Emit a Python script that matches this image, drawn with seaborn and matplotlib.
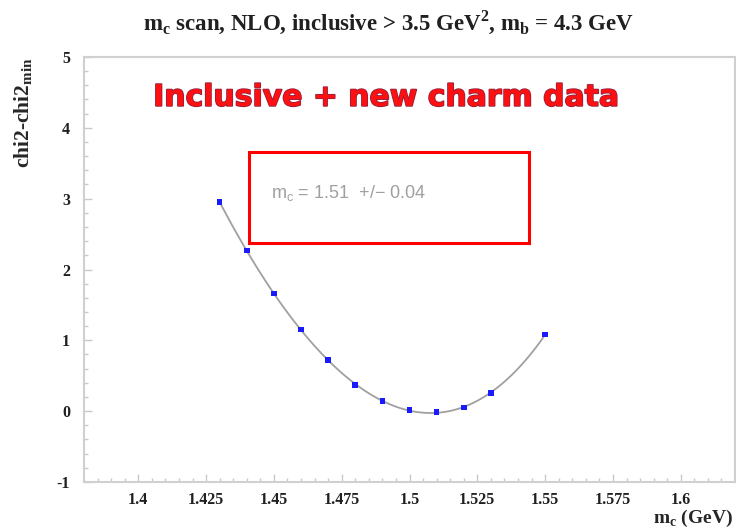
import numpy as np
import pandas as pd
import matplotlib
matplotlib.use("Agg")
import matplotlib.pyplot as plt
import matplotlib.patheffects as pe
from matplotlib.patches import Rectangle
from matplotlib.ticker import MultipleLocator, FixedLocator, FixedFormatter
import seaborn as sns

# ---- data ----
mc_values = [1.43, 1.44, 1.45, 1.46, 1.47, 1.48, 1.49, 1.50, 1.51, 1.52, 1.53, 1.55]
dchi2 = [2.95, 2.27, 1.66, 1.15, 0.72, 0.37, 0.14, 0.02, -0.01, 0.05, 0.26, 1.08]
x_ticks = [1.4, 1.425, 1.45, 1.475, 1.5, 1.525, 1.55, 1.575, 1.6]
x_tick_labels = ["1.4", "1.425", "1.45", "1.475", "1.5", "1.525", "1.55", "1.575", "1.6"]
y_ticks = [-1, 0, 1, 2, 3, 4, 5]
y_tick_labels = ["-1", "0", "1", "2", "3", "4", "5"]

title = r"m$_\mathbf{c}$ scan, NLO, inclusive > 3.5 GeV$^\mathbf{2}$, m$_\mathbf{b}$ = 4.3 GeV"
banner = "Inclusive + new charm data"
result = r"m$_\mathregular{c}$ = 1.51  +/− 0.04"

df = pd.DataFrame({"mc": mc_values, "dchi2": dchi2})

sns.set_theme(style="white")
plt.rcParams["font.family"] = ["Liberation Serif", "DejaVu Serif"]
plt.rcParams["mathtext.fontset"] = "custom"
plt.rcParams["mathtext.rm"] = "Liberation Serif"
plt.rcParams["mathtext.bf"] = "Liberation Serif:bold"

fig = plt.figure(figsize=(7.36, 5.32), dpi=100)
fig.patch.set_facecolor("white")
ax = fig.add_axes([84 / 736, 1 - 482 / 532, (735 - 84) / 736, (482 - 57) / 532])
ax.set_facecolor("white")

# fit curve through the points (seaborn polynomial regression)
sns.regplot(data=df, x="mc", y="dchi2", order=4, ci=None, scatter=False,
            truncate=True, line_kws=dict(color="#a0a0a0", lw=1.3), ax=ax)
sns.scatterplot(data=df, x="mc", y="dchi2", marker="s", s=16, color="#1a1aff",
                edgecolor="none", linewidth=0, zorder=5, ax=ax)

ax.set_xlim(1.38, 1.62)
ax.set_ylim(-1, 5)

ax.xaxis.set_major_locator(FixedLocator(x_ticks))
ax.xaxis.set_major_formatter(FixedFormatter(x_tick_labels))
ax.yaxis.set_major_locator(FixedLocator(y_ticks))
ax.yaxis.set_major_formatter(FixedFormatter(y_tick_labels))
ax.xaxis.set_minor_locator(MultipleLocator(0.005))
ax.yaxis.set_minor_locator(MultipleLocator(0.2))
ax.tick_params(axis="both", which="major", direction="in", length=6, width=1,
               color="#c8c8c8", labelsize=11.5, labelcolor="#202020",
               bottom=True, left=True, top=False, right=False)
ax.tick_params(axis="both", which="minor", direction="in", length=3, width=1,
               color="#c8c8c8", bottom=True, left=True, top=False, right=False)
ax.tick_params(axis="x", pad=7)
ax.tick_params(axis="y", pad=10)
for lab in ax.get_xticklabels() + ax.get_yticklabels():
    lab.set_fontweight("bold")
for sp in ax.spines.values():
    sp.set_color("#d0d0d0")
    sp.set_linewidth(1.5)

ax.set_xlabel(r"m$_\mathbf{c}$ (GeV)", fontsize=14, fontweight="bold", loc="right")
ax.xaxis.set_label_coords(0.997, -0.06)
ax.set_ylabel(r"chi2-chi2$_\mathbf{min}$", fontsize=15.5, fontweight="bold", loc="top")
ax.yaxis.set_label_coords(-0.075, 1.0)

fig.text(388 / 736, 1 - 22 / 532, title, ha="center", va="center", fontsize=16.5,
         fontweight="bold", color="#202020")

# banner text
ax.text(1.4055, 4.43, banner, ha="left", va="center", fontsize=21.5,
        fontweight="bold", color="#ff1010", family="DejaVu Sans",
        path_effects=[pe.withStroke(linewidth=1.2, foreground="#902040")])

# result box
ax.add_patch(Rectangle((1.441, 2.38), 1.5442 - 1.441, 3.66 - 2.38, fill=False,
                       edgecolor="#ff0000", linewidth=2.2, zorder=6))
ax.text(1.4488, 3.08, result, ha="left", va="center", fontsize=13,
        color="#a0a0a0", family="Liberation Sans")

fig.savefig("out.png", dpi=100)
